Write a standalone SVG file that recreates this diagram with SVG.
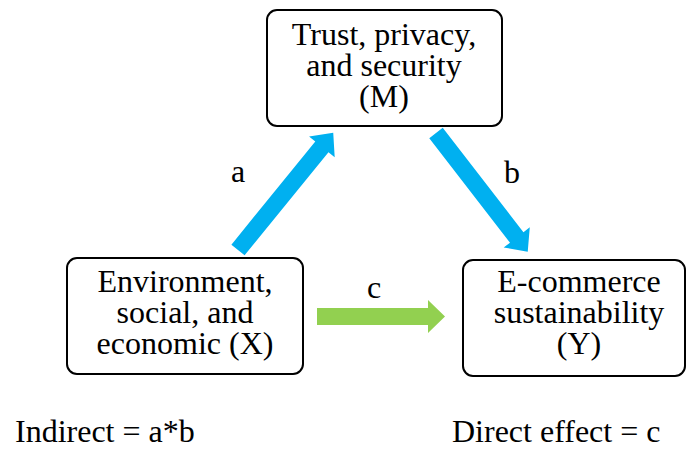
<svg xmlns="http://www.w3.org/2000/svg" width="688" height="450" viewBox="0 0 688 450">
<style>
.box{fill:#fff;stroke:#000;stroke-width:2}
.t{font-family:'Liberation Serif','Times New Roman',Times,'DejaVu Serif',serif;font-size:32px;fill:#000}
.c{text-anchor:middle}
.blue{fill:#00B0F0}
.green{fill:#92D050}
</style>
<rect width="688" height="450" fill="#fff"/>
<g id="connectors">
<g id="arrow-a" transform="translate(238,250) rotate(-50.9)"><polygon class="blue" points="0,-8.5 133,-8.5 133,-16.5 151,0 133,16.5 133,8.5 0,8.5"/></g>
<g id="arrow-b" transform="translate(436,133) rotate(52.3)"><polygon class="blue" points="0,-8.5 132,-8.5 132,-16.5 150,0 132,16.5 132,8.5 0,8.5"/></g>
<g id="arrow-c" transform="translate(317,316.5)"><polygon class="green" points="0,-8.5 111,-8.5 111,-16.5 128,0 111,16.5 111,8.5 0,8.5"/></g>
<text class="t" x="231" y="182">a</text>
<text class="t" x="504" y="183">b</text>
<text class="t" x="367" y="298">c</text>
</g>
<g id="M">
<rect class="box" x="267" y="10" width="235" height="116" rx="10"/>
<text class="t c" x="384" y="45">Trust, privacy,</text>
<text class="t c" x="384" y="76">and security</text>
<text class="t c" x="384" y="107">(M)</text>
</g>
<g id="X">
<rect class="box" x="67" y="258" width="236" height="116" rx="10"/>
<text class="t c" x="185" y="292">Environment,</text>
<text class="t c" x="185" y="323">social, and</text>
<text class="t c" x="185" y="354">economic (X)</text>
</g>
<g id="Y">
<rect class="box" x="463" y="260" width="222" height="116" rx="10"/>
<text class="t c" x="579" y="292">E-commerce</text>
<text class="t c" x="579" y="323">sustainability</text>
<text class="t c" x="579" y="354">(Y)</text>
</g>
<text class="t" x="15" y="442">Indirect = a*b</text>
<text class="t" x="452" y="442">Direct effect = c</text>
</svg>
